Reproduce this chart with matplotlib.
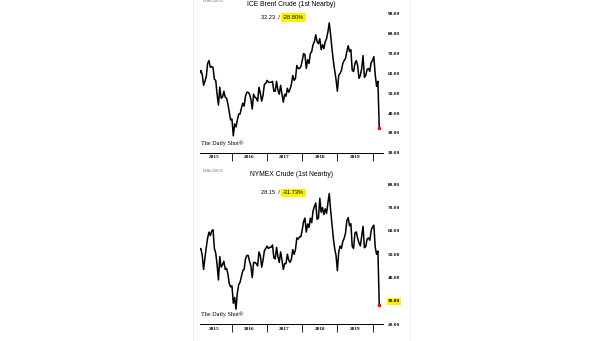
import matplotlib.pyplot as plt
import pandas as pd

# Data (biweekly closes, Feb 2015 - Mar 9 2020)
dates = pd.date_range('2015-02-02', '2020-03-09', freq='14D')

brent = [
    # 2015
    60, 61.5, 59.5, 54, 56, 58.5, 65, 66.5, 63, 63.5, 63, 57, 56.5, 49.5, 44, 53,
    47.5, 48, 51, 48, 47.5, 44.5, 40.5, 36.5,
    # 2016
    37, 28.5, 34.5, 33, 36.5, 39.5, 39.5, 42.5, 45, 43.5, 48.5, 50.5, 50.5, 49.5,
    47, 42, 49.5, 48, 47.5, 46, 53, 50, 46, 49, 54.5, 55,
    # 2017
    56.5, 55.5, 55.5, 55.5, 56, 51, 51, 56, 51.5, 49.5, 54, 49.5, 45.5, 49.5, 48.5,
    52.5, 50.5, 52, 54.5, 59, 56.5, 57.5, 64, 62.5, 62.5, 63.5,
    # 2018
    66.5, 70, 69.5, 62.5, 67, 65, 70, 71, 74.5, 76, 79.5, 76, 75, 77.5, 72, 74.5,
    72.5, 76, 77.5, 81, 85.5, 79.5, 72.5, 66.5, 61.5, 57, 51,
    # 2019
    59, 60, 61.5, 65, 66.5, 67.5, 71, 74, 71, 72, 61.5, 61, 65, 66.5, 64, 57.5,
    59, 62.5, 69, 58, 59, 62, 62.5, 61, 65.5, 66.5,
    # 2020
    68.5, 59.5, 53.5, 56, 32.23,
]

wti = [
    # 2015
    52, 52.5, 49.5, 43.5, 48.5, 53, 57, 59.5, 58, 60, 60.5, 52.5, 50.5, 45.5, 39,
    49, 44.5, 45.5, 47, 43.5, 44, 41.5, 37.5, 36,
    # 2016
    36.5, 29, 31.5, 26.5, 33.5, 37, 38, 40.5, 43, 43.5, 48, 49.5, 49.5, 47, 45, 40,
    46.5, 46.5, 46, 45, 51, 49.5, 44.5, 47.5, 51.5, 52.5,
    # 2017
    53.5, 52.5, 53, 53, 54, 48.5, 48, 53, 49, 46.5, 51, 47.5, 43.5, 46, 46, 50,
    47.5, 46.5, 48, 52, 50, 52, 57, 56.5, 57.5, 57.5,
    # 2018
    60.5, 64, 65.5, 59.5, 63, 61.5, 65.5, 63.5, 68.5, 70.5, 72, 65, 65.5, 74, 68,
    70, 67, 69.5, 67.5, 72, 76, 69, 63, 57, 52.5, 49.5, 43,
    # 2019
    51, 53.5, 52.5, 55.5, 56.8, 59, 64.4, 65.7, 62.2, 63.1, 53.3, 52.5, 59.1, 59.6,
    56.9, 54.9, 53.6, 57.8, 62, 52.8, 53.3, 56.5, 57, 56, 60.2, 61.7,
    # 2020
    62.5, 53.1, 50, 51.4, 28.15,
]

charts = [
    dict(title='ICE Brent Crude (1st Nearby)', values=brent, last='32.23',
         change='-28.80%', ylim=(20, 92.5), yticks=[20, 30, 40, 50, 60, 70, 80, 90],
         rect=[0.3298, 0.5522, 0.3033, 0.4214], ann_y=88.2, mark=None),
    dict(title='NYMEX Crude (1st Nearby)', values=wti, last='28.15',
         change='-31.73%', ylim=(20, 82), yticks=[20, 30, 40, 50, 60, 70, 80],
         rect=[0.3298, 0.0490, 0.3033, 0.4243], ann_y=76.3, mark=30),
]

years = [2015, 2016, 2017, 2018, 2019]

fig = plt.figure(figsize=(6.05, 3.41), dpi=100)
fig.patch.set_facecolor('white')

# faint page edges
fig.add_artist(plt.Line2D([193 / 605, 193 / 605], [0, 1], color='#eeeeee', lw=0.6))
fig.add_artist(plt.Line2D([410 / 605, 410 / 605], [0, 1], color='#eeeeee', lw=0.6))

for c in charts:
    ax = fig.add_axes(c['rect'])
    ax.plot(dates, c['values'], color='black', lw=1.1)
    ax.plot(dates[-1], c['values'][-1], 'o', color='red', ms=1.6, zorder=5)

    ax.set_ylim(*c['ylim'])
    ax.set_xlim(pd.Timestamp('2015-02-02'), pd.Timestamp('2020-04-17'))

    for s in ['left', 'right', 'top']:
        ax.spines[s].set_visible(False)
    ax.spines['bottom'].set_linewidth(0.7)

    ax.yaxis.tick_right()
    ax.set_yticks(c['yticks'])
    ax.set_yticklabels(['%.2f' % v for v in c['yticks']], fontsize=3.8,
                       fontweight='bold', family='Liberation Serif')
    ax.tick_params(axis='y', length=0, pad=3.5)
    if c['mark'] is not None:
        for lab, v in zip(ax.get_yticklabels(), c['yticks']):
            if v == c['mark']:
                lab.set_bbox(dict(facecolor='#fff200', edgecolor='none', pad=0.8))

    ax.set_xticks([pd.Timestamp(f'{y}-01-01') for y in years[1:]] + [pd.Timestamp('2020-01-01')])
    ax.set_xticklabels([])
    ax.tick_params(axis='x', which='major', length=5.5, width=0.6, direction='out')
    ax.set_xticks([pd.Timestamp(f'{y}-07-01') for y in years], minor=True)
    ax.set_xticklabels([str(y) for y in years], minor=True, fontsize=3.8,
                       fontweight='bold', family='Liberation Serif')
    ax.tick_params(axis='x', which='minor', length=0, pad=2)

    ax.set_title(c['title'], fontsize=4.9, family='Liberation Sans', pad=2.5)

    ax.text(0.455, c['ann_y'], c['last'] + '  /  ', transform=ax.get_yaxis_transform(),
            ha='right', va='center', fontsize=4.1, family='Liberation Sans')
    ax.text(0.455, c['ann_y'], c['change'], transform=ax.get_yaxis_transform(),
            ha='left', va='center', fontsize=4.1, family='Liberation Sans',
            bbox=dict(facecolor='#fff200', edgecolor='none', pad=1.2))

    ax.text(0.008, 0.05, 'The Daily Shot\u00ae', transform=ax.transAxes,
            fontsize=4.4, family='Liberation Serif', ha='left', va='bottom')
    ax.text(0.02, 1.045, '09-Mar-2020 13', transform=ax.transAxes,
            fontsize=1.8, color='#555555', ha='left', va='bottom')

fig.savefig('out.png', dpi=100)
